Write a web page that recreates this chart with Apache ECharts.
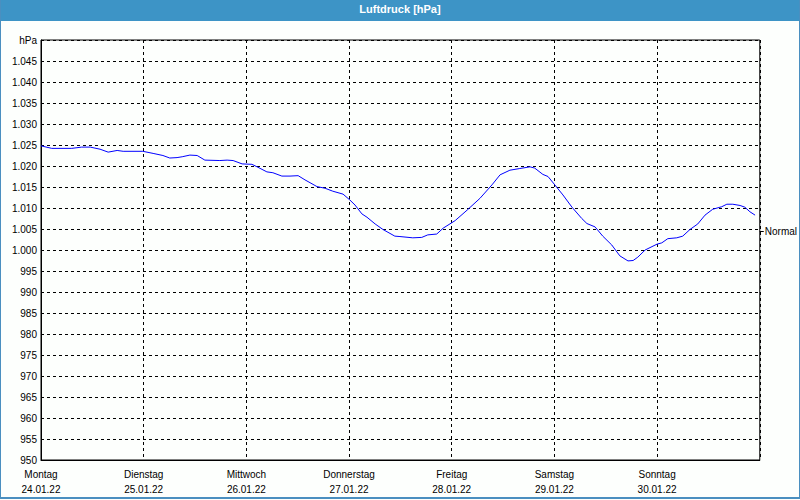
<!DOCTYPE html>
<html>
<head>
<meta charset="utf-8">
<script src="https://cdn.jsdelivr.net/npm/echarts@6/dist/echarts.min.js"></script>
<style>
html,body{margin:0;padding:0;background:#fdfffd;}
#frame{position:absolute;left:0;top:0;width:798px;height:497px;border:1px solid #4a8fc0;border-top:none;border-bottom:2px solid #4a8fc0;}
#chart{position:absolute;left:0;top:0;width:800px;height:500px;}
</style>
</head>
<body>
<div id="chart"></div>
<div id="frame"></div>
<script>
// hours since Montag 24.01.22 00:00
const hours = [0,2.5,7.2,9.5,11.5,13.8,15.7,17.8,19.2,23.8,26.2,28.5,30.1,31.8,33.0,34.8,36.5,38.3,41.8,43.5,44.9,47.0,49.3,50.7,52.8,54.2,56.3,58.2,60.1,61.7,64.5,66.4,68.2,70.6,72.2,73.4,75.0,76.2,78.1,79.9,82.7,83.9,86.9,89.0,90.4,92.5,94.0,96.8,99.6,102.6,105.4,107.3,109.6,111.9,114.3,115.4,117.3,118.5,120.1,122.0,124.1,126.4,127.6,129.5,131.3,133.4,135.3,137.2,138.4,139.5,141.2,144.0,145.1,146.5,148.6,150.0,151.7,153.5,155.2,157.0,159.1,160.3,161.7,163.4,164.5,165.7,166.9];
const pressure = [1024.8,1024.2,1024.2,1024.5,1024.5,1024.0,1023.3,1023.7,1023.5,1023.5,1023.0,1022.5,1021.9,1022.0,1022.2,1022.6,1022.5,1021.4,1021.3,1021.4,1021.3,1020.5,1020.4,1019.7,1018.6,1018.4,1017.6,1017.6,1017.7,1016.7,1015.1,1014.7,1014.0,1013.3,1011.9,1010.7,1008.6,1007.8,1006.2,1004.9,1003.3,1003.2,1002.9,1003.0,1003.6,1003.8,1005.2,1007.0,1009.5,1012.3,1015.5,1017.9,1019.0,1019.4,1019.8,1019.5,1018.0,1017.5,1015.5,1013.1,1010.2,1007.5,1006.3,1005.5,1003.3,1001.2,998.6,997.4,997.5,998.3,1000.0,1001.4,1001.7,1002.7,1002.9,1003.3,1004.9,1006.2,1008.3,1009.7,1010.3,1010.9,1010.9,1010.6,1010.2,1009.1,1008.3];
const dayNames = ['Montag','Dienstag','Mittwoch','Donnerstag','Freitag','Samstag','Sonntag'];
const dayDates = ['24.01.22','25.01.22','26.01.22','27.01.22','28.01.22','29.01.22','30.01.22'];
const normalValue = 1004.5;
const normalLabel = 'Normal';
const titleText = 'Luftdruck [hPa]';
const yUnit = 'hPa';

const font = 'Liberation Sans';
function fmtY(v){
  if (v === 1050) return yUnit;
  if (v >= 1000) { const s = String(v); return s.slice(0, s.length-3) + '.' + s.slice(s.length-3); }
  return String(v);
}
const chart = echarts.init(document.getElementById('chart'), null, {renderer:'svg'});
chart.setOption({
  animation:false,
  backgroundColor:'#fdfffd',
  textStyle:{fontFamily:font},
  graphic:[{type:'rect', left:0, top:0, shape:{width:800, height:21}, style:{fill:'#3d94c6'}, z:-1}],
  title:{text:titleText, left:'center', top:3, padding:0,
    textStyle:{color:'#ffffff', fontSize:11, fontWeight:'bold', fontFamily:font}},
  grid:{left:41, right:40, top:40, bottom:40, show:true, borderColor:'#000', borderWidth:1, backgroundColor:'transparent'},
  xAxis:{type:'value', min:0, max:168, interval:24,
    axisLine:{show:true, lineStyle:{color:'#000'}},
    axisTick:{show:false},
    splitLine:{show:true, lineStyle:{color:'#000', type:[3,3], width:1}},
    axisLabel:{color:'#000', fontSize:10, lineHeight:15, margin:7, showMaxLabel:false,
      formatter:function(v){ const i = Math.round(v/24); return i < dayNames.length ? dayNames[i] + '\n' + dayDates[i] : ''; }}
  },
  yAxis:[{type:'value', min:950, max:1050, interval:5,
    axisLine:{show:true, lineStyle:{color:'#000'}},
    axisTick:{show:false},
    splitLine:{show:true, lineStyle:{color:'#000', type:[3,3], width:1}},
    axisLabel:{color:'#000', fontSize:10, margin:4, formatter:fmtY}
  },{type:'value', min:950, max:1050, position:'right',
    axisLine:{show:false},
    splitLine:{show:false},
    axisTick:{show:true, length:4, inside:false, lineStyle:{color:'#000'}, customValues:[normalValue]},
    axisLabel:{show:true, color:'#000', fontSize:10, margin:5, customValues:[normalValue], formatter:function(){return normalLabel;}}
  }],
  series:[{type:'line', data:hours.map((h,i)=>[h, pressure[i]]), showSymbol:false, symbol:'none',
    lineStyle:{color:'#0000ff', width:1}, smooth:false}]
});
</script>
</body>
</html>
